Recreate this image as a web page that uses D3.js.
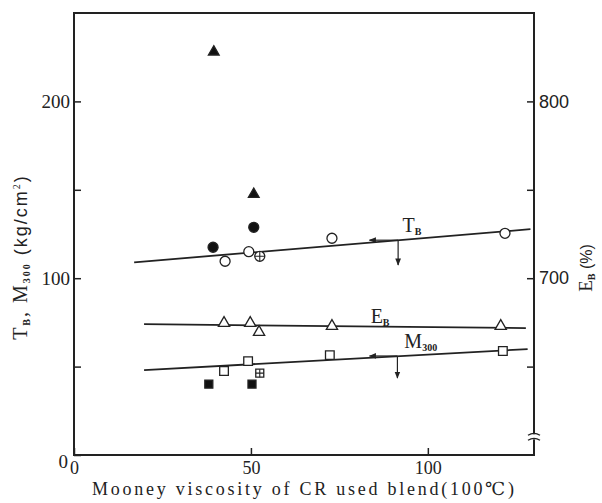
<!DOCTYPE html>
<html>
<head>
<meta charset="utf-8">
<script src="https://cdn.jsdelivr.net/npm/d3@7"></script>
<style>
  body { margin: 0; background: #fff; }
  text { font-family: "Liberation Serif", "DejaVu Serif", serif; fill: #222; }
</style>
</head>
<body>
<div id="chart"></div>
<script>
// data (x = Mooney viscosity, left axis kg/cm2, right axis %)
var tbOpenX = [42.7, 49.4, 72.9, 121.8];
var tbOpenY = [109.6, 115, 122.6, 125.4];
var tbCrossX = [52.5];
var tbCrossY = [112.4];
var tbFilledX = [39.3, 50.8];
var tbFilledY = [117.5, 128.8];

var ebOpenX = [42.4, 49.8, 52.3, 72.9, 120.6];
var ebOpenY = [674.6, 674.6, 669.5, 672.9, 672.9];
var ebFilledX = [39.5, 50.8];
var ebFilledY = [828, 747.5];

var m300OpenX = [42.4, 49.2, 72.3, 121.2];
var m300OpenY = [47.5, 53.1, 56.5, 58.8];
var m300CrossX = [52.5];
var m300CrossY = [46.3];
var m300FilledX = [38.1, 50.3];
var m300FilledY = [40.1, 40.1];

// fitted lines (end points)
var tbLineX = [17, 129];
var tbLineY = [109, 127.7];
var ebLineX = [19.8, 127.7];
var ebLineY = [674, 671.8];
var m300LineX = [19.8, 128.2];
var m300LineY = [48, 59.9];

var xTicks = [0, 50, 100];
var leftTicks = [0, 50, 100, 150, 200];
var leftLabels = ["0", "", "100", "", "200"];
var rightTicks = [650, 700, 750, 800];
var rightLabels = ["", "700", "", "800"];

var svgWidth = 602;
var svgHeight = 503;
var margin = { left: 74, right: 534, top: 13, bottom: 455 };

var svg = d3.select("#chart")
  .append("svg")
  .attr("width", svgWidth)
  .attr("height", svgHeight);

var x = d3.scaleLinear().domain([0, 130]).range([margin.left, margin.right]);
var y = d3.scaleLinear().domain([0, 250]).range([margin.bottom, margin.top]);
var yR = d3.scaleLinear().domain([600, 850]).range([margin.bottom, margin.top]);

// frame
svg.append("rect")
  .attr("x", margin.left).attr("y", margin.top)
  .attr("width", margin.right - margin.left).attr("height", margin.bottom - margin.top)
  .attr("fill", "none").attr("stroke", "#222").attr("stroke-width", 2);

// axes
var xAxis = svg.append("g")
  .attr("transform", `translate(0, ${margin.bottom})`)
  .call(d3.axisBottom(x).tickValues(xTicks).tickSizeInner(-7).tickSizeOuter(0).tickPadding(6));
var yAxis = svg.append("g")
  .attr("transform", `translate(${margin.left}, 0)`)
  .call(d3.axisLeft(y).tickValues(leftTicks).tickFormat((d, i) => leftLabels[i])
    .tickSizeInner(-7).tickSizeOuter(0).tickPadding(4));
var rAxis = svg.append("g")
  .attr("transform", `translate(${margin.right}, 0)`)
  .call(d3.axisRight(yR).tickValues(rightTicks).tickFormat((d, i) => rightLabels[i])
    .tickSizeInner(-7).tickSizeOuter(0).tickPadding(5));

[xAxis, yAxis, rAxis].forEach(function(g) {
  g.select(".domain").remove();
  g.selectAll("line").attr("stroke", "#222").attr("stroke-width", 1.5);
  g.selectAll("text").attr("fill", "#222").style("font-size", "19px")
    .style("font-family", "'Liberation Serif', serif");
});
xAxis.selectAll("text").style("font-size", "18px");
rAxis.selectAll("text").style("font-family", "'Liberation Sans', sans-serif").style("font-size", "18px");
yAxis.selectAll("text").filter(d => d === 0).attr("dy", "0.65em").attr("x", -6);

// break mark on the right axis
var yb = yR(610);
var rx = margin.right;
svg.append("rect").attr("x", rx - 3).attr("y", yb - 3).attr("width", 6).attr("height", 5).attr("fill", "#fff");
[-3, 2].forEach(function(o) {
  svg.append("path")
    .attr("d", `M${rx - 6},${yb + o + 1} Q${rx},${yb + o - 3} ${rx + 6},${yb + o + 1}`)
    .attr("fill", "none").attr("stroke", "#222").attr("stroke-width", 1.3);
});

// fitted lines
function fitLine(xs, ys, sy) {
  svg.append("line")
    .attr("x1", x(xs[0])).attr("y1", sy(ys[0]))
    .attr("x2", x(xs[1])).attr("y2", sy(ys[1]))
    .attr("stroke", "#222").attr("stroke-width", 1.8);
}
fitLine(tbLineX, tbLineY, y);
fitLine(ebLineX, ebLineY, yR);
fitLine(m300LineX, m300LineY, y);

// markers
function zip(xs, ys) { return xs.map((v, i) => [v, ys[i]]); }

function circles(pts, sy, filled) {
  svg.append("g").selectAll("circle").data(pts).join("circle")
    .attr("cx", d => x(d[0])).attr("cy", d => sy(d[1])).attr("r", 5)
    .attr("fill", filled ? "#111" : "#fff").attr("stroke", "#222").attr("stroke-width", 1.3);
}
function symbols(pts, sy, type, size, filled) {
  svg.append("g").selectAll("path").data(pts).join("path")
    .attr("transform", d => `translate(${x(d[0])}, ${sy(d[1])})`)
    .attr("d", d3.symbol().type(type).size(size))
    .attr("fill", filled ? "#111" : "#fff").attr("stroke", "#222").attr("stroke-width", 1.3);
}
function crosses(pts, sy, h) {
  svg.append("g").selectAll("path").data(pts).join("path")
    .attr("d", d => `M${x(d[0]) - h},${sy(d[1])}H${x(d[0]) + h}M${x(d[0])},${sy(d[1]) - h}V${sy(d[1]) + h}`)
    .attr("stroke", "#222").attr("stroke-width", 1.1);
}

circles(zip(tbOpenX, tbOpenY), y, false);
circles(zip(tbCrossX, tbCrossY), y, false);
crosses(zip(tbCrossX, tbCrossY), y, 5);
circles(zip(tbFilledX, tbFilledY), y, true);

symbols(zip(ebOpenX, ebOpenY), yR, d3.symbolTriangle, 55, false);
symbols(zip(ebFilledX, ebFilledY), yR, d3.symbolTriangle, 50, true);

symbols(zip(m300OpenX, m300OpenY), y, d3.symbolSquare, 75, false);
symbols(zip(m300CrossX, m300CrossY), y, d3.symbolSquare, 64, false);
crosses(zip(m300CrossX, m300CrossY), y, 4);
symbols(zip(m300FilledX, m300FilledY), y, d3.symbolSquare, 64, true);

// arrow annotations on T_B and M300 lines
svg.append("defs").append("marker")
  .attr("id", "ah").attr("viewBox", "0 0 10 10").attr("refX", 9).attr("refY", 5)
  .attr("markerWidth", 6).attr("markerHeight", 6).attr("orient", "auto")
  .append("path").attr("d", "M0,1L10,5L0,9Z").attr("fill", "#222");

function arrows(ax, ay, leftTo, downTo) {
  svg.append("line")
    .attr("x1", x(ax)).attr("y1", y(ay)).attr("x2", x(leftTo)).attr("y2", y(ay))
    .attr("stroke", "#222").attr("stroke-width", 1.2).attr("marker-end", "url(#ah)");
  svg.append("line")
    .attr("x1", x(ax)).attr("y1", y(ay)).attr("x2", x(ax)).attr("y2", y(downTo))
    .attr("stroke", "#222").attr("stroke-width", 1.2).attr("marker-end", "url(#ah)");
}
arrows(91.6, 121.5, 83.5, 107.5);
arrows(91.4, 56, 83.5, 43.5);

// series labels
function subLabel(vx, vy, main, sub) {
  var t = svg.append("text").attr("x", x(vx)).attr("y", y(vy))
    .attr("text-anchor", "middle").style("font-size", "20px");
  t.append("tspan").text(main);
  t.append("tspan").attr("dy", 3).style("font-size", "10px").style("font-weight", "bold").text(sub);
}
subLabel(95.5, 126, "T", "B");
subLabel(86.5, 74.5, "E", "B");
subLabel(98, 60.5, "M", "300");

// axis titles
svg.append("text")
  .attr("x", 303).attr("y", 495)
  .attr("text-anchor", "middle")
  .attr("textLength", 422).attr("lengthAdjust", "spacing")
  .style("font-size", "18px")
  .text("Mooney viscosity of CR used blend(100℃)");

var yl = svg.append("text")
  .attr("transform", "translate(27, 257) rotate(-90)")
  .attr("text-anchor", "middle")
  .style("font-size", "20px")
  .style("letter-spacing", "2px");
yl.append("tspan").text("T");
yl.append("tspan").attr("dy", 3).style("font-size", "10px").style("font-weight", "bold").text("B");
yl.append("tspan").attr("dy", -3).text(", M");
yl.append("tspan").attr("dy", 3).style("font-size", "10px").style("font-weight", "bold").text("300");
yl.append("tspan").attr("dy", -3).style("font-family", "'Liberation Sans', sans-serif").style("font-size", "18px").text(" (kg/cm");
yl.append("tspan").attr("dy", -7).style("font-size", "10px").text("2");
yl.append("tspan").attr("dy", 7).style("font-family", "'Liberation Sans', sans-serif").style("font-size", "18px").text(")");

var rl = svg.append("text")
  .attr("transform", "translate(592, 268) rotate(-90)")
  .attr("text-anchor", "middle")
  .style("font-size", "19px");
rl.append("tspan").text("E");
rl.append("tspan").attr("dy", 3).style("font-size", "10px").style("font-weight", "bold").text("B");
rl.append("tspan").attr("dy", -3).style("font-family", "'Liberation Sans', sans-serif").style("font-size", "16px").text(" (%)");
</script>
</body>
</html>
